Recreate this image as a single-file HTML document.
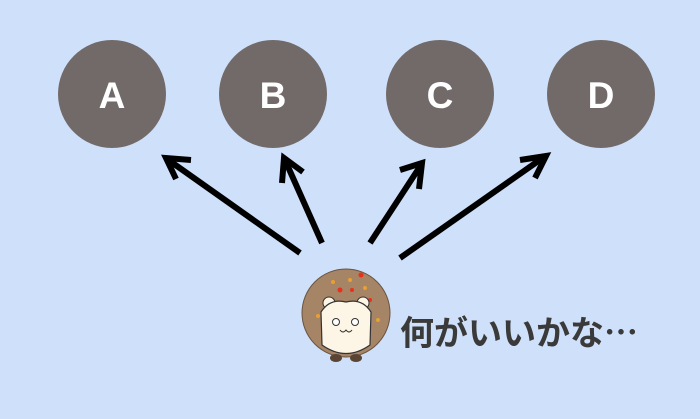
<!DOCTYPE html>
<html><head><meta charset="utf-8"><style>
html,body{margin:0;padding:0;background:#cfe0fa;}
svg{display:block}
</style></head><body>
<svg width="700" height="419" viewBox="0 0 700 419" xmlns="http://www.w3.org/2000/svg">
<rect width="700" height="419" fill="#cfe0fa"/>
<g fill="#716a69">
<circle cx="112" cy="94" r="54"/><circle cx="273" cy="94" r="54"/>
<circle cx="440" cy="94" r="54"/><circle cx="601" cy="94" r="54"/>
</g>
<g fill="#fff" font-family="Liberation Sans, sans-serif" font-weight="bold" font-size="37" text-anchor="middle">
<text x="112" y="108">A</text><text x="273" y="108">B</text>
<text x="440" y="108">C</text><text x="601" y="108">D</text>
</g>
<g stroke="#000" stroke-width="6" fill="none" stroke-linecap="butt" stroke-linejoin="miter">
<line x1="300" y1="253" x2="167" y2="159"/><polyline points="191,160 166,158 176,179"/>
<line x1="322" y1="243" x2="285" y2="160"/><polyline points="303,172 284,158 282,183"/>
<line x1="370" y1="243" x2="421" y2="165"/><polyline points="400,170 422,163 419,189"/>
<line x1="400" y1="258" x2="544" y2="157"/><polyline points="520,160 546,156 535,178"/>
</g>
<circle cx="346" cy="313" r="44" fill="#a68466" stroke="#6b5440" stroke-width="1"/>
<g fill="#e8301c"><circle cx="340" cy="290" r="2.5"/><circle cx="361" cy="275" r="2.5"/><circle cx="325" cy="302" r="2"/><circle cx="370" cy="300" r="2"/><circle cx="352" cy="290" r="2"/></g>
<g fill="#e8a030"><circle cx="333" cy="282" r="2"/><circle cx="350" cy="280" r="2"/><circle cx="365" cy="288" r="2"/><circle cx="318" cy="316" r="2"/><circle cx="378" cy="320" r="2"/></g>
<circle cx="329" cy="303" r="6" fill="#fdf6e6" stroke="#333"/><circle cx="363" cy="303" r="6" fill="#fdf6e6" stroke="#333"/>
<path d="M321 312 Q330 298 346 302 Q362 298 371 312 L370 345 Q346 362 322 345 Z" fill="#fdf6e6" stroke="#333" stroke-width="1.2"/>
<circle cx="336" cy="322" r="3.5" fill="#fff" stroke="#333"/><circle cx="355" cy="322" r="3.5" fill="#fff" stroke="#333"/>
<path d="M340 330 q3 4 6 0 q3 4 6 0" fill="none" stroke="#333"/>
<ellipse cx="336" cy="358" rx="6" ry="4" fill="#5a4535"/><ellipse cx="356" cy="358" rx="6" ry="4" fill="#5a4535"/>
<text x="400" y="345" font-family="Noto Sans CJK JP, sans-serif" font-weight="bold" font-size="34" fill="#3a3a3a">何がいいかな…</text>
</svg>
</body></html>
